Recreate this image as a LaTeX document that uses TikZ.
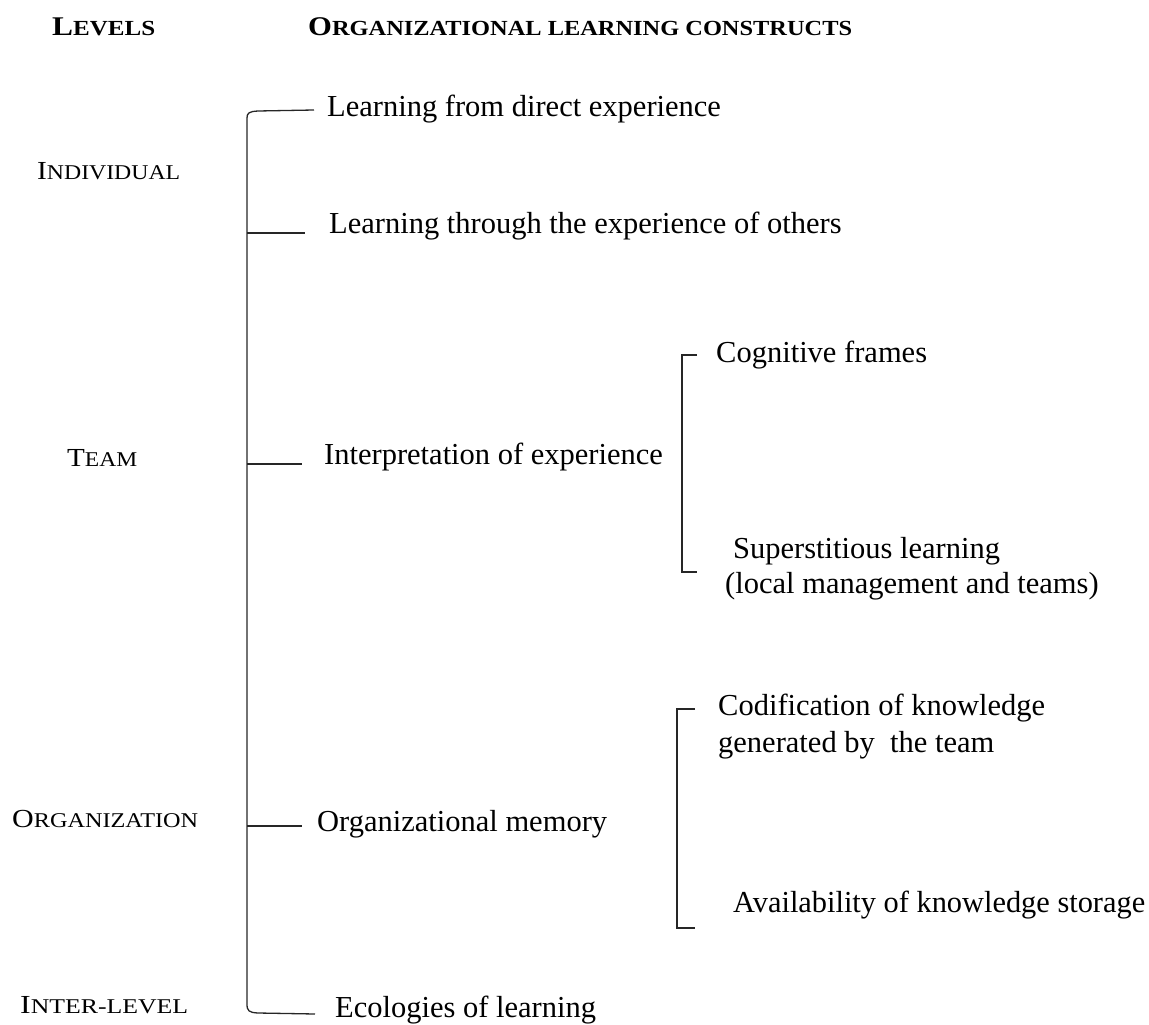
\documentclass[tikz,border=0pt]{standalone}
\usepackage{fontspec}
\usepackage{graphicx}
\setmainfont{Liberation Serif}

% small-caps built from two sizes of capitals
\newcommand{\capsbig}[1]{{\fontsize{26}{30}\selectfont #1}}
\newcommand{\capssmall}[1]{{\fontsize{21}{24}\selectfont #1}}
\newcommand{\hdbig}[1]{{\bfseries\fontsize{27}{32}\selectfont #1}}
\newcommand{\hdsmall}[1]{{\bfseries\fontsize{21.5}{26}\selectfont #1}}
% stretch a label horizontally to a given width
\newcommand{\widthto}[2]{\resizebox{#1}{\height}{#2}}

\tikzset{
  txt/.style={anchor=base west, inner sep=0pt, font=\fontsize{30.5}{36}\selectfont},
  lvl/.style={anchor=base west, inner sep=0pt},
  brk/.style={draw=black!85, line width=1.3pt},
}

\begin{document}
\begin{tikzpicture}[x=1pt,y=-1pt]
\useasboundingbox (0,0) rectangle (1149,1025);

% column headings
\node[lvl] (hLevels) at (52,36) {\widthto{103pt}{\hdbig{L}\hdsmall{EVELS}}};
\node[lvl] (hConstructs) at (308,36) {\widthto{544pt}{\hdbig{O}\hdsmall{RGANIZATIONAL LEARNING CONSTRUCTS}}};

% levels
\node[lvl] (lInd) at (37,179) {\widthto{143pt}{\capsbig{I}\capssmall{NDIVIDUAL}}};
\node[lvl] (lTeam) at (67,466) {\widthto{70pt}{\capsbig{T}\capssmall{EAM}}};
\node[lvl] (lOrg) at (12,827) {\widthto{186pt}{\capsbig{O}\capssmall{RGANIZATION}}};
\node[lvl] (lInter) at (20,1013) {\widthto{168pt}{\capsbig{I}\capssmall{NTER-LEVEL}}};

% constructs
\node[txt] (cDirect) at (327,117) {Learning from direct experience};
\node[txt] (cOthers) at (329,233) {Learning through the experience of others};
\node[txt] (cInterp) at (324,464) {Interpretation of experience};
\node[txt] (cMemory) at (317,831) {Organizational memory};
\node[txt] (cEco) at (335,1017) {Ecologies of learning};

% sub-constructs
\node[txt] (sCog) at (716,362) {Cognitive frames};
\node[txt] (sSup) at (733,558) {Superstitious learning};
\node[txt] (sLoc) at (725,593) {(local management and teams)};
\node[txt] (sCod) at (718,715) {Codification of knowledge};
\node[txt] (sGen) at (718,752) {generated by\ \ the team};
\node[txt] (sAva) at (733,912) {\widthto{412pt}{Availability of knowledge storage}};

% main bracket
\coordinate (mTop) at (314,110);
\coordinate (mBot) at (315,1014);
\draw[brk] (mTop) -- (258,111) .. controls (249,111.5) and (247,113) .. (247,118)
  -- (247,1004) .. controls (247,1011) and (249,1012.5) .. (258,1013) -- (mBot);

% ticks from the main bracket
\coordinate (kOthers) at (305,233);
\coordinate (kInterp) at (302,464);
\coordinate (kMemory) at (302,826);
\draw[brk] (247,233) -- (kOthers);
\draw[brk] (247,464) -- (kInterp);
\draw[brk] (247,826) -- (kMemory);

% sub-brackets
\coordinate (bCogTop) at (697,355);
\coordinate (bCogBot) at (697,572);
\draw[brk] (bCogTop) -- (682,355) -- (682,572) -- (bCogBot);
\coordinate (bMemTop) at (695,709);
\coordinate (bMemBot) at (695,928);
\draw[brk] (bMemTop) -- (677,709) -- (677,928) -- (bMemBot);
\end{tikzpicture}
\end{document}
